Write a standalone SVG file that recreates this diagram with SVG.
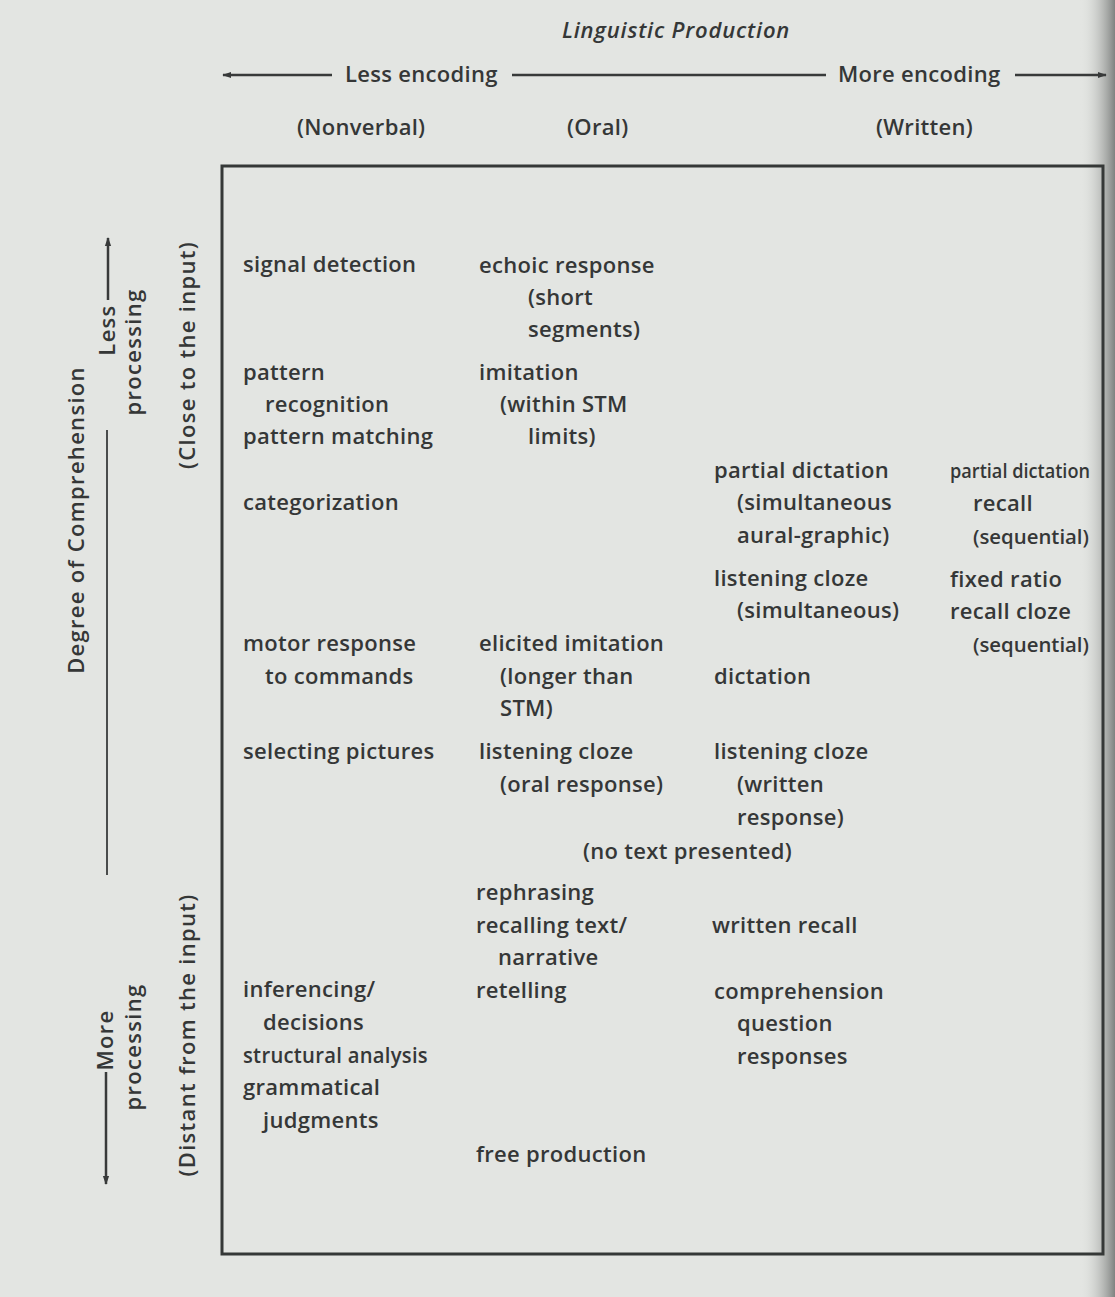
<svg xmlns="http://www.w3.org/2000/svg" width="1115" height="1297" viewBox="0 0 1115 1297">
  <defs>
    <linearGradient id="edge" x1="0" y1="0" x2="1" y2="0">
      <stop offset="0" stop-color="#e2e4e1" stop-opacity="0"/>
      <stop offset="1" stop-color="#7f8280"/>
    </linearGradient>
    <marker id="ah" viewBox="0 0 10 10" refX="9" refY="5" markerWidth="9" markerHeight="9" orient="auto-start-reverse" markerUnits="userSpaceOnUse">
      <path d="M0,1.5 L10,5 L0,8.5 Z" fill="#383a3a"/>
    </marker>
  </defs>
  <style>
    text { font-family: "Open Sans", "Noto Sans", "Liberation Sans", sans-serif; font-size: 22px; font-weight: 600; letter-spacing: 0.3px; fill: #353737; }
    .it { font-style: italic; font-size: 22px; letter-spacing: 0.8px; }
    .ax { font-size: 22px; letter-spacing: 1.3px; }
    .sm { font-size: 20.5px; letter-spacing: 0; }
    .ln { stroke: #383a3a; stroke-width: 2.5; fill: none; }
    .thin { stroke: #4a4c4c; stroke-width: 2; fill: none; }
    .box { stroke: #353837; stroke-width: 3; fill: none; }
  </style>

  <rect x="0" y="0" width="1115" height="1297" fill="#e3e5e2"/>
  <rect x="1080" y="0" width="35" height="1297" fill="url(#edge)"/>

  <g id="header">
    <text class="it" x="676" y="38" text-anchor="middle">Linguistic Production</text>
    <text x="345" y="82">Less encoding</text>
    <text x="838" y="82">More encoding</text>
    <text x="297" y="135">(Nonverbal)</text>
    <text x="567" y="135">(Oral)</text>
    <text x="876" y="135">(Written)</text>
  </g>

  <g id="connectors">
    <path class="ln" d="M332,75 H223" marker-end="url(#ah)"/>
    <path class="ln" d="M512,75 H826"/>
    <path class="ln" d="M1015,75 H1106" marker-end="url(#ah)"/>
    <path class="ln" d="M108,300 V238" marker-end="url(#ah)"/>
    <path class="thin" d="M107,430 V875"/>
    <path class="ln" d="M106,1072 V1184" marker-end="url(#ah)"/>
  </g>

  <g id="axis">
    <text class="ax" transform="translate(84,520) rotate(-90)" text-anchor="middle">Degree of Comprehension</text>
    <text class="ax" transform="translate(115,330) rotate(-90)" text-anchor="middle">Less</text>
    <text class="ax" transform="translate(141,352) rotate(-90)" text-anchor="middle">processing</text>
    <text class="ax" transform="translate(195,355) rotate(-90)" text-anchor="middle">(Close to the input)</text>
    <text class="ax" transform="translate(113,1040) rotate(-90)" text-anchor="middle">More</text>
    <text class="ax" transform="translate(141,1047) rotate(-90)" text-anchor="middle">processing</text>
    <text class="ax" transform="translate(195,1035) rotate(-90)" text-anchor="middle">(Distant from the input)</text>
  </g>

  <g id="frame">
    <rect class="box" x="222" y="166" width="881" height="1088"/>
  </g>

  <g id="col-nonverbal">
    <text x="243" y="272">signal detection</text>
    <text x="243" y="380">pattern</text>
    <text x="265" y="412">recognition</text>
    <text x="243" y="444">pattern matching</text>
    <text x="243" y="510">categorization</text>
    <text x="243" y="651">motor response</text>
    <text x="265" y="684">to commands</text>
    <text x="243" y="759">selecting pictures</text>
    <text x="243" y="997">inferencing/</text>
    <text x="263" y="1030">decisions</text>
    <text x="243" y="1063" textLength="185" lengthAdjust="spacingAndGlyphs">structural analysis</text>
    <text x="243" y="1095">grammatical</text>
    <text x="263" y="1128">judgments</text>
  </g>

  <g id="col-oral">
    <text x="479" y="273">echoic response</text>
    <text x="528" y="305">(short</text>
    <text x="528" y="337">segments)</text>
    <text x="479" y="380">imitation</text>
    <text x="500" y="412">(within STM</text>
    <text x="528" y="444">limits)</text>
    <text x="479" y="651">elicited imitation</text>
    <text x="500" y="684">(longer than</text>
    <text x="500" y="716">STM)</text>
    <text x="479" y="759">listening cloze</text>
    <text x="500" y="792">(oral response)</text>
    <text x="583" y="859">(no text presented)</text>
    <text x="476" y="900">rephrasing</text>
    <text x="476" y="933">recalling text/</text>
    <text x="498" y="965">narrative</text>
    <text x="476" y="998">retelling</text>
    <text x="476" y="1162">free production</text>
  </g>

  <g id="col-written">
    <text x="714" y="478">partial dictation</text>
    <text x="737" y="510">(simultaneous</text>
    <text x="737" y="543">aural-graphic)</text>
    <text x="714" y="586">listening cloze</text>
    <text x="737" y="618">(simultaneous)</text>
    <text x="714" y="684">dictation</text>
    <text x="714" y="759">listening cloze</text>
    <text x="737" y="792">(written</text>
    <text x="737" y="825">response)</text>
    <text x="712" y="933">written recall</text>
    <text x="714" y="999">comprehension</text>
    <text x="737" y="1031">question</text>
    <text x="737" y="1064">responses</text>
  </g>

  <g id="col-written-recall">
    <text class="sm" x="950" y="478" textLength="140" lengthAdjust="spacingAndGlyphs">partial dictation</text>
    <text x="973" y="511">recall</text>
    <text class="sm" x="973" y="544" textLength="116" lengthAdjust="spacingAndGlyphs">(sequential)</text>
    <text x="950" y="587">fixed ratio</text>
    <text x="950" y="619">recall cloze</text>
    <text class="sm" x="973" y="652" textLength="116" lengthAdjust="spacingAndGlyphs">(sequential)</text>
  </g>
</svg>
